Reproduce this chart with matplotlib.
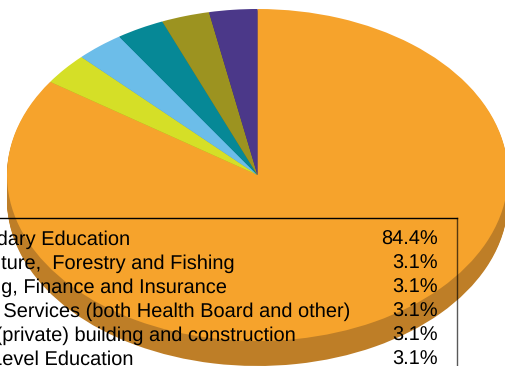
import matplotlib
matplotlib.use("Agg")
import matplotlib.pyplot as plt
import numpy as np
from matplotlib.transforms import Affine2D

plt.rcParams['font.family'] = ['Liberation Sans', 'DejaVu Sans']
plt.rcParams['text.hinting'] = 'no_hinting'
plt.rcParams['text.hinting_factor'] = 1

# === Data ===
categories = ["Secondary Education",
              "Agriculture,  Forestry and Fishing",
              "Banking, Finance and Insurance",
              "Health Services (both Health Board and other)",
              "Other (private) building and construction",
              "Third Level Education"]
values = [84.4, 3.1, 3.1, 3.1, 3.1, 3.1]
value_labels = ["84.4%", "3.1%", "3.1%", "3.1%", "3.1%", "3.1%"]
colors = ["#F6A32C", "#D5DF27", "#6CBDE9", "#068896", "#9C9320", "#4B3889"]
side_colors = ["#BE7E27", "#A2AA1E", "#5290B1", "#056872", "#777018", "#392A68"]

W, H = 505, 366
CX, CY, RX, RY = 257.5, 175, 250.5, 166
DEPTH = 25

fig = plt.figure(figsize=(W / 100, H / 100), dpi=100)
ax = fig.add_axes([0, 0, 1, 1])

# Side of the 3D pie: stack of darker pies going down
for dy in np.arange(DEPTH, 0, -1):
    ax.pie(values, colors=side_colors, startangle=90, counterclock=False,
           radius=1, center=(0, -dy / RY))
ax.pie(values, colors=colors, startangle=90, counterclock=False, radius=1)

# stretch the pie into an ellipse
ax.set_aspect('auto')
ax.set_xlim(-CX / RX, (W - CX) / RX)
ax.set_ylim((CY - H) / RY, CY / RY)
ax.axis('off')

# Table on top, pixel coords (y down), cut off by the left image edge
px = Affine2D().scale(1, -1).translate(0, H)
ax.plot([0, 457], [218, 218], color="black", lw=1, transform=px, clip_on=False)
ax.plot([457, 457], [218, H], color="black", lw=1, alpha=0.65, transform=px, clip_on=False)

row_y = [245, 269, 293, 317, 341, 365]
for name, val, y in zip(categories, value_labels, row_y):
    ax.text(-60.5, y, name, transform=px, fontsize=14.5, va='baseline', ha='left', color="black")
    ax.text(437.5, y, val, transform=px, fontsize=14.5, va='baseline', ha='right', color="black")

fig.savefig("out.png", dpi=100)
